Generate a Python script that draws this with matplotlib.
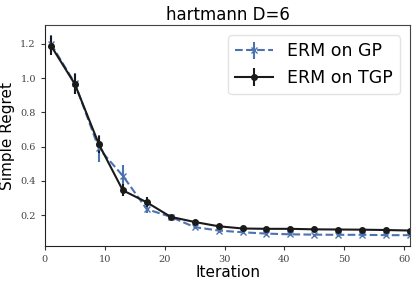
import matplotlib
matplotlib.use("Agg")
import matplotlib.pyplot as plt

iterations = [1, 5, 9, 13, 17, 21, 25, 29, 33, 37, 41, 45, 49, 53, 57, 61]

gp_mean = [1.20, 0.97, 0.59, 0.43, 0.235, 0.19, 0.13, 0.11, 0.10, 0.092,
           0.088, 0.086, 0.085, 0.085, 0.083, 0.083]
gp_err = [0.05, 0.06, 0.08, 0.06, 0.02, 0.01, 0.012, 0.008, 0.006, 0.006,
          0.005, 0.005, 0.005, 0.005, 0.005, 0.005]

tgp_mean = [1.19, 0.965, 0.615, 0.345, 0.275, 0.19, 0.16, 0.135, 0.122, 0.12,
            0.12, 0.117, 0.116, 0.115, 0.113, 0.11]
tgp_err = [0.055, 0.06, 0.05, 0.035, 0.03, 0.01, 0.008, 0.006, 0.005, 0.005,
           0.005, 0.005, 0.005, 0.005, 0.005, 0.005]

fig, ax = plt.subplots(figsize=(4.16, 2.88), dpi=100)

ax.errorbar(iterations, gp_mean, yerr=gp_err, color="#4c72b0", linestyle="--",
            marker="x", markersize=4, linewidth=1.5, elinewidth=1.5,
            label="ERM on GP")
ax.errorbar(iterations, tgp_mean, yerr=tgp_err, color="#1a1a1a", linestyle="-",
            marker="o", markersize=4, linewidth=1.5, elinewidth=1.5,
            label="ERM on TGP")

ax.set_xlim(0, 61)
ax.set_ylim(0.02, 1.31)
ax.set_xticks([0, 10, 20, 30, 40, 50, 60])
ax.set_yticks([0.2, 0.4, 0.6, 0.8, 1.0, 1.2])
ax.set_yticklabels(["0.2", "0.4", "0.6", "0.8", "1.0", "1.2"])
for lbl in ax.get_xticklabels() + ax.get_yticklabels():
    lbl.set_family("DejaVu Serif")
    lbl.set_fontsize(7)
    lbl.set_color("#444444")
ax.tick_params(length=3, width=0.8, color="#333333")

ax.set_xlabel("Iteration", fontsize=11, labelpad=1)
ax.set_ylabel("Simple Regret", fontsize=11)
ax.set_title("hartmann D=6", fontsize=12, pad=4)

for side in ["left", "bottom"]:
    ax.spines[side].set_color("#222222")
for side in ["top", "right"]:
    ax.spines[side].set_color("#444444")

ax.legend(loc="upper right", fontsize=12.5, frameon=True, edgecolor="#dddddd",
          handlelength=2.2, borderaxespad=0.6)

fig.subplots_adjust(left=0.108, right=0.986, top=0.913, bottom=0.146)
fig.savefig("out.png", dpi=100)
